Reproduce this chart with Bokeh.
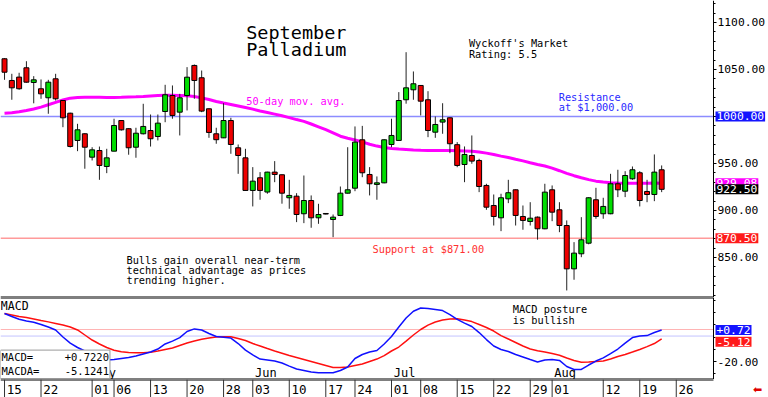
from bokeh.plotting import figure
from bokeh.models import Range1d, FixedTicker, Label, PrintfTickFormatter
from bokeh.layouts import column
from bokeh.embed import file_html
from bokeh.resources import INLINE
from bokeh.core.properties import value

# ---------------- data ----------------
opens = [1061.4, 1038.3, 1041.9, 1051.8, 1036.2, 1029.5, 1019.9, 1040.1, 1017.0, 1003.5,
         974.5, 981.6, 956.7, 963.8, 946.8, 963.1, 995.7, 987.0, 967.3, 981.6,
         985.1, 978.7, 1005.3, 1022.3, 1004.6, 1022.3, 1054.3, 1041.2, 1008.2, 981.6,
         977.3, 995.7, 966.7, 956.0, 921.3, 934.8, 919.6, 940.8, 938.0, 913.5,
         915.2, 896.5, 910.6, 892.2, 896.8, 890.4, 894.7, 918.4, 923.7, 975.2,
         938.3, 927.7, 929.4, 970.2, 974.5, 1017.8, 1028.4, 1033.0, 1017.8, 983.3,
         994.0, 998.6, 970.0, 948.9, 958.5, 953.2, 926.6, 905.3, 892.2, 912.4,
         922.0, 893.6, 888.3, 892.9, 880.5, 922.0, 900.7, 884.0, 837.9, 853.9,
         865.2, 911.4, 896.5, 896.5, 928.4, 920.5, 933.7, 940.1, 920.2, 917.0,
         943.3]
highs = [1062.0, 1045.4, 1046.5, 1058.8, 1042.9, 1039.4, 1039.0, 1045.4, 1017.5, 1004.0,
         992.2, 982.2, 967.3, 968.0, 965.6, 997.6, 996.0, 987.5, 988.0, 1013.5,
         1002.1, 1002.1, 1033.7, 1033.0, 1024.1, 1052.5, 1055.3, 1048.9, 1008.5, 988.0,
         1014.1, 998.6, 970.2, 965.6, 946.1, 940.8, 941.2, 952.5, 938.3, 932.6,
         918.4, 937.2, 916.0, 907.1, 897.0, 895.7, 925.5, 967.3, 989.4, 990.0,
         946.1, 936.2, 975.8, 997.6, 1025.9, 1068.4, 1047.9, 1033.3, 1026.9, 1000.0,
         1014.1, 999.0, 972.7, 968.1, 979.8, 955.0, 928.4, 917.0, 917.8, 932.6,
         922.3, 905.3, 908.8, 893.6, 928.4, 926.6, 908.8, 889.4, 866.3, 892.9,
         914.0, 924.1, 913.5, 939.0, 943.3, 941.8, 946.8, 941.8, 932.6, 959.6,
         947.9]
lows = [1039.0, 1017.8, 1028.4, 1036.0, 1014.0, 1018.8, 1002.9, 1017.0, 988.6, 967.0,
        963.1, 944.4, 953.2, 932.6, 939.7, 963.0, 985.0, 959.3, 956.1, 980.9,
        968.0, 974.5, 993.9, 997.6, 979.8, 1006.4, 1018.8, 1004.6, 977.3, 971.0,
        977.0, 960.3, 939.0, 921.0, 904.3, 911.4, 917.8, 930.1, 907.2, 901.8,
        887.6, 886.5, 881.6, 885.8, 895.8, 871.6, 894.0, 918.0, 920.5, 935.4,
        916.0, 911.4, 929.0, 967.3, 974.2, 1013.6, 1017.8, 1001.1, 978.0, 977.3,
        981.6, 961.0, 946.0, 930.1, 949.7, 919.5, 900.7, 884.0, 878.0, 907.8,
        884.0, 879.5, 884.0, 868.9, 880.0, 888.6, 876.9, 814.9, 826.3, 850.3,
        864.0, 891.2, 891.2, 896.0, 914.2, 914.2, 932.6, 904.3, 908.8, 909.9,
        919.5]
closes = [1047.1, 1030.5, 1029.5, 1036.5, 1039.0, 1024.1, 1036.5, 1018.8, 998.6, 968.1,
          985.8, 967.3, 964.5, 947.9, 956.0, 990.4, 985.8, 966.7, 982.2, 989.4,
          976.3, 992.9, 1023.1, 1001.1, 1019.9, 1041.8, 1038.3, 1005.7, 983.0, 975.3,
          995.7, 970.2, 958.5, 921.3, 931.2, 921.3, 940.8, 938.3, 918.4, 916.0,
          895.7, 910.6, 892.2, 895.7, 896.2, 892.9, 918.4, 922.0, 972.7, 940.1,
          928.4, 929.4, 975.2, 979.8, 1017.0, 1030.5, 1034.8, 1016.3, 985.1, 991.5,
          996.5, 971.0, 947.9, 959.6, 952.5, 925.5, 903.5, 893.6, 913.5, 918.9,
          894.7, 889.4, 891.8, 880.5, 919.5, 898.2, 884.0, 837.9, 854.6, 868.8,
          913.5, 893.6, 904.3, 928.4, 922.0, 937.2, 943.3, 910.6, 917.0, 940.8,
          922.5]
ma50 = [1003.5, 1004.0, 1005.0, 1006.3, 1008.0, 1010.0, 1012.5, 1015.0, 1017.5, 1019.5,
        1020.3, 1020.5, 1020.5, 1020.5, 1020.3, 1020.3, 1020.5, 1020.8, 1021.0, 1021.3,
        1021.8, 1022.2, 1022.5, 1022.5, 1022.3, 1022.0, 1021.2, 1019.8, 1018.0, 1016.0,
        1014.3, 1012.8, 1011.2, 1009.5, 1007.8, 1005.8, 1004.2, 1002.5, 1000.7, 998.8,
        996.7, 994.8, 992.0, 989.0, 986.0, 982.5, 979.0, 976.8, 975.0, 973.0,
        970.5, 968.5, 967.0, 966.0, 965.3, 964.8, 964.3, 964.0, 963.8, 963.8,
        963.8, 963.8, 963.6, 963.4, 963.0, 962.3, 961.0, 959.5, 957.8, 956.3,
        954.5, 952.8, 950.8, 949.0, 947.3, 945.0, 942.3, 939.5, 937.0, 934.8,
        932.8, 931.2, 930.2, 929.5, 929.2, 929.0, 929.0, 929.0, 929.0, 929.1,
        929.08]
macd = [11.5, 9.5, 7.7, 6.6, 5.8, 4.3, 2.6, 0.7, -3.9, -7.9,
        -10.8, -13.1, -15.7, -17.8, -19.0, -18.7, -18.0, -17.4, -16.4, -15.1,
        -13.8, -11.8, -8.5, -6.6, -4.3, -0.3, 1.4, 0.7, -1.6, -3.6,
        -4.1, -4.6, -8.2, -12.5, -15.7, -18.4, -19.0, -19.7, -21.0, -23.0,
        -24.9, -25.9, -26.9, -27.4, -27.4, -27.4, -25.9, -23.6, -18.0, -15.4,
        -13.8, -12.8, -8.5, -3.6, 2.6, 8.5, 13.0, 15.1, 14.8, 14.1,
        13.4, 10.8, 7.7, 5.2, 3.0, -1.0, -5.6, -9.8, -12.1, -13.4,
        -15.4, -17.0, -18.7, -20.3, -19.0, -18.7, -19.3, -23.3, -25.2, -25.2,
        -22.3, -19.7, -17.6, -14.8, -11.8, -7.9, -4.3, -3.3, -3.0, -1.0,
        0.7220]
macda = [11.5, 10.5, 9.5, 8.9, 7.9, 6.9, 6.0, 5.0, 3.9, 2.6,
         0.7, -2.6, -5.9, -8.5, -10.8, -12.6, -13.6, -14.1, -14.3, -14.2,
         -14.0, -13.1, -12.1, -11.1, -9.5, -7.9, -6.6, -5.4, -4.5, -3.9,
         -3.8, -3.8, -4.9, -6.2, -8.2, -9.8, -11.5, -13.1, -14.6, -16.1,
         -17.4, -18.7, -20.0, -21.3, -22.6, -23.9, -23.9, -23.6, -22.6, -21.6,
         -20.0, -18.4, -16.1, -13.1, -10.5, -6.6, -2.6, 1.0, 3.9, 5.9,
         7.2, 7.9, 8.0, 7.2, 6.2, 4.3, 2.3, 0.0, -3.0, -5.2,
         -7.5, -9.8, -11.8, -13.0, -13.8, -14.8, -15.9, -17.7, -19.3, -20.5,
         -20.3, -20.0, -19.7, -18.4, -16.7, -15.4, -13.8, -12.1, -10.2, -8.2,
         -5.1241]
# date axis: trading-day index of each labelled date, and its label
date_idx = [0, 5, 12, 15, 20, 25, 30, 34, 39, 44, 48, 53, 57, 62, 67, 72, 75, 82, 87, 92]
date_lbl = ["15", "22", "01", "06", "13", "20", "28", "03", "10", "17",
            "24", "01", "08", "15", "22", "29", "01", "12", "19", "26"]
month_idx = [12, 34, 53, 75]
month_lbl = ["May", "Jun", "Jul", "Aug"]
price_ticks = [850, 900, 950, 1000, 1050, 1100]
macd_ticks = [-20]
resistance = 1000.0
support = 870.5

# ---------------- styling ----------------
MONO = "DejaVu Sans Mono"
GREEN = "#00dd00"
RED = "#ee0000"
AX_FS = "11.3px"
X0, X1 = -0.55, 97.1          # plotting area (candles)
PLOT_W = 713                  # pixels of the plotting area
AXIS_W = 55                   # pixels of the price-axis strip on the right
XE = X1 + AXIS_W * (X1 - X0) / PLOT_W
FW = PLOT_W + AXIS_W
n = len(closes)
xs = list(range(n))
xr = Range1d(X0, XE)


def base(fig):
    fig.grid.visible = False
    fig.min_border_left = 0
    fig.min_border_right = 0
    fig.min_border_top = 0
    fig.min_border_bottom = 0
    fig.background_fill_color = "white"
    fig.border_fill_color = "white"
    fig.outline_line_color = None


def style_yaxis(ax):
    ax.fixed_location = X1
    ax.axis_line_color = "black"
    ax.axis_line_width = 1
    ax.major_tick_in = 0
    ax.major_tick_out = 3
    ax.minor_tick_in = 0
    ax.minor_tick_out = 2
    ax.major_tick_line_color = "black"
    ax.minor_tick_line_color = "black"
    ax.major_label_text_font = MONO
    ax.major_label_text_font_size = AX_FS
    ax.major_label_text_color = "black"
    ax.major_label_standoff = 1
    ax.formatter = PrintfTickFormatter(format="%.2f")


def side_label(fig, yv, txt, bg, fg="white", yoff=0):
    fig.add_layout(Label(x=X1, y=yv, x_offset=2, y_offset=yoff, text=txt,
                         text_font=MONO, text_font_size=AX_FS, text_color=fg,
                         text_baseline="middle", text_align="left",
                         background_fill_color=bg, background_fill_alpha=1.0,
                         padding=1))


def hline(fig, yv, color, width):
    fig.segment(x0=[X0], y0=[yv], x1=[X1], y1=[yv], line_color=color, line_width=width)


# ---------------- price panel ----------------
P_LO, P_HI = 807.4, 1123.4
p1 = figure(frame_width=FW, frame_height=297, x_range=xr, y_range=Range1d(P_LO, P_HI),
            output_backend="svg", toolbar_location=None,
            y_axis_location="right", x_axis_location=None)
base(p1)
style_yaxis(p1.yaxis[0])
p1.yaxis[0].ticker = FixedTicker(ticks=price_ticks,
                                 minor_ticks=[810 + 10 * k for k in range(32)])

hline(p1, resistance, "#8c8cff", 1.5)
hline(p1, support, "#ff9a9a", 1.5)
hline(p1, P_LO, "black", 2)

p1.line(xs, ma50, line_color="#ff00ff", line_width=3)

up = [i for i in xs if closes[i] >= opens[i]]
dn = [i for i in xs if closes[i] < opens[i]]
p1.segment(x0=xs, y0=lows, x1=xs, y1=highs, line_color="#222222", line_width=1)
p1.vbar(x=up, width=0.68, bottom=[opens[i] for i in up], top=[closes[i] for i in up],
        fill_color=GREEN, line_color="black", line_width=1)
p1.vbar(x=dn, width=0.68, bottom=[closes[i] for i in dn], top=[opens[i] for i in dn],
        fill_color=RED, line_color="black", line_width=1)

p1.text(x=[33.1, 33.1], y=[1089.4, 1071.3], text=["September", "Palladium"],
        text_font=value(MONO), text_font_size=value("18.5px"), text_color="black",
        text_align="left", text_baseline="middle")
p1.text(x=[63.6, 63.6], y=[1077.7, 1067.0], text=["Wyckoff's Market", "Rating: 5.5"],
        text_font=value(MONO), text_font_size=value("10.3px"), text_color="black",
        text_align="left", text_baseline="middle")
p1.text(x=[33.1], y=[1016.5], text=["50-day mov. avg."],
        text_font=value(MONO), text_font_size=value("10.3px"), text_color="#ff00ff",
        text_align="left", text_baseline="middle")
p1.text(x=[75.9, 75.9], y=[1020.7, 1009.6], text=["Resistance", "at $1,000.00"],
        text_font=value(MONO), text_font_size=value("10.3px"), text_color="#2a2aff",
        text_align="left", text_baseline="middle")
p1.text(x=[50.4], y=[858.5], text=["Support at $871.00"],
        text_font=value(MONO), text_font_size=value("10.3px"), text_color="#ff3030",
        text_align="left", text_baseline="middle")
p1.text(x=[16.7, 16.7, 16.7], y=[847.3, 836.7, 826.1],
        text=["Bulls gain overall near-term", "technical advantage as prices", "trending higher."],
        text_font=value(MONO), text_font_size=value("10.3px"), text_color="black",
        text_align="left", text_baseline="middle")

side_label(p1, resistance, "%.2f" % resistance, "#1414ff")
side_label(p1, ma50[-1], "%.2f" % ma50[-1], "#ff00ff")
side_label(p1, closes[-1], "%.2f" % closes[-1], "black")
side_label(p1, support, "%.2f" % support, "#ff1a1a")

# ---------------- MACD panel ----------------
M_LO, M_HI = -31.8, 22.0
p2 = figure(frame_width=FW, frame_height=82, x_range=xr, y_range=Range1d(M_LO, M_HI),
            output_backend="svg", toolbar_location=None,
            y_axis_location="right", x_axis_location=None)
base(p2)
style_yaxis(p2.yaxis[0])
p2.yaxis[0].ticker = FixedTicker(ticks=macd_ticks, minor_ticks=[-28, -12, -4, 4, 12, 20])

hline(p2, 1.0, "#ffb4b4", 1)
hline(p2, -3.3, "#c4c4ff", 1)
hline(p2, M_HI, "black", 2)
hline(p2, M_LO, "black", 2)

p2.line(xs, macda, line_color="#ff1010", line_width=1.5)
p2.line(xs, macd, line_color="#1010ff", line_width=1.5)

p2.text(x=[X0 + 0.05], y=[16.7], text=["MACD"],
        text_font=value(MONO), text_font_size=value("11.5px"), text_color="black",
        text_align="left", text_baseline="middle")
p2.text(x=[69.6, 69.6], y=[14.4, 7.2], text=["MACD posture", "is bullish"],
        text_font=value(MONO), text_font_size=value("10.3px"), text_color="black",
        text_align="left", text_baseline="middle")
p2.text(x=[m + 0.3 for m in month_idx], y=[-27.3] * len(month_idx), text=month_lbl,
        text_font=value(MONO), text_font_size=value("12px"), text_color="black",
        text_align="left", text_baseline="middle")

NB = "\u00a0"
box_txt = ("MACD=" + NB * 5 + "%+.4f" % macd[-1] + "\n" +
           "MACDA=" + NB * 4 + "%+.4f" % macda[-1])
p2.add_layout(Label(x=X0, y=M_LO, y_offset=1, text=box_txt,
                    text_font=MONO, text_font_size="10.5px", text_color="black",
                    text_align="left", text_baseline="bottom",
                    background_fill_color="white", background_fill_alpha=1.0,
                    border_line_color="#999999", border_line_width=1, padding=1))

side_label(p2, macd[-1], "%+.2f" % macd[-1], "#1414ff")
side_label(p2, macda[-1], "%+.2f" % macda[-1], "#ff1a1a", yoff=-3)

# ---------------- date axis row ----------------
p3 = figure(frame_width=FW, frame_height=18, x_range=xr, y_range=Range1d(0, 1),
            output_backend="svg", toolbar_location=None,
            x_axis_location=None, y_axis_location=None)
base(p3)
hline(p3, 1.0, "black", 2)
p3.segment(x0=date_idx, y0=[0] * len(date_idx), x1=date_idx, y1=[1] * len(date_idx),
           line_color="#333333", line_width=1)
p3.text(x=[d + 0.3 for d in date_idx], y=[0.42] * len(date_idx), text=date_lbl,
        text_font=value(MONO), text_font_size=value("12.5px"), text_color="black",
        text_align="left", text_baseline="middle")
p3.text(x=[XE - 1.5], y=[0.45], text=["\u2b05"], text_font=value("DejaVu Sans"),
        text_font_size=value("11px"), text_color="#e00000",
        text_align="center", text_baseline="middle")

layout = column(p1, p2, p3, spacing=0)
open("out.html", "w").write(file_html(layout, INLINE))
